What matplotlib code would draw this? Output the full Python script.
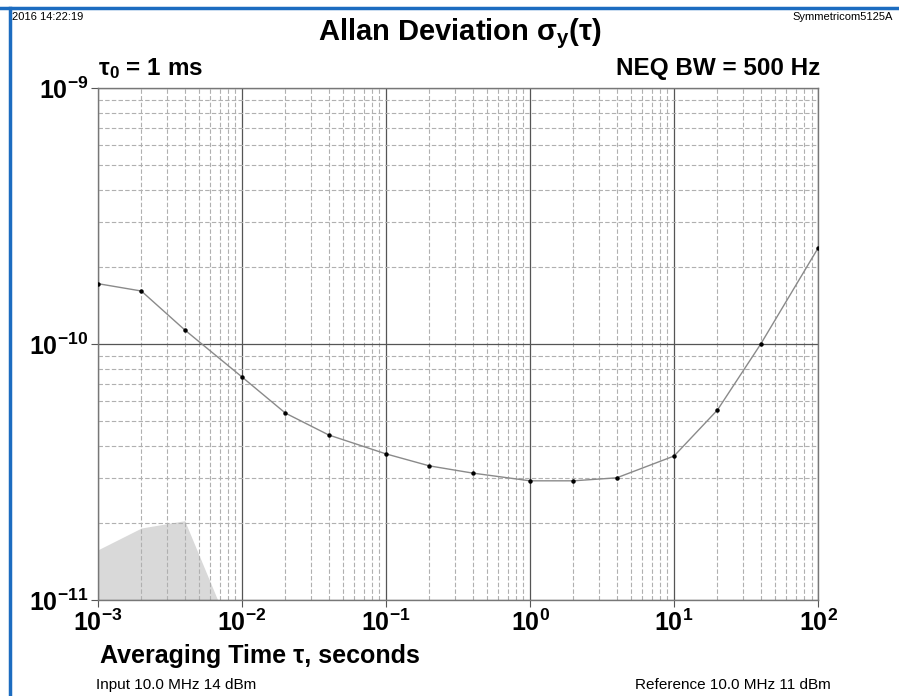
import matplotlib
matplotlib.use("Agg")
import matplotlib.pyplot as plt
from matplotlib.lines import Line2D
from matplotlib.ticker import LogLocator, NullFormatter

plt.rcParams['font.family'] = ['Liberation Sans', 'DejaVu Sans']
plt.rcParams['mathtext.fontset'] = 'custom'
plt.rcParams['mathtext.rm'] = 'Liberation Sans'
plt.rcParams['mathtext.bf'] = 'Liberation Sans:bold'
plt.rcParams['mathtext.it'] = 'Liberation Sans:italic'

# averaging times (s) and Allan deviation
tau = [1e-3, 2e-3, 4e-3, 1e-2, 2e-2, 4e-2, 1e-1, 2e-1, 4e-1,
       1.0, 2.0, 4.0, 10.0, 20.0, 40.0, 100.0]
adev = [1.72e-10, 1.61e-10, 1.135e-10, 7.43e-11, 5.37e-11, 4.41e-11,
        3.72e-11, 3.34e-11, 3.13e-11, 2.92e-11, 2.92e-11, 3.0e-11,
        3.65e-11, 5.52e-11, 1.0e-10, 2.37e-10]

# noise floor shown as grey area
floor_tau = [1e-3, 2e-3, 4e-3, 1e-2]
floor_val = [1.57e-11, 1.91e-11, 2.04e-11, 5.9e-12]

xticks = [1e-3, 1e-2, 1e-1, 1e0, 1e1, 1e2]
xlabels = ['-3', '-2', '-1', '0', '1', '2']
yticks = [1e-11, 1e-10, 1e-9]
ylabels = ['-11', '-10', '-9']

fig = plt.figure(figsize=(8.99, 6.96), dpi=100)
ax = fig.add_axes([0.109, 0.138, 0.801, 0.7356])

ax.fill_between(floor_tau, floor_val, 1e-13, color='#d9d9d9', lw=0, zorder=1)
ax.plot(tau, adev, color='#8a8a8a', lw=1.0, zorder=3)
ax.plot(tau, adev, 'o', color='black', ms=2.2, zorder=4)

ax.set_xscale('log')
ax.set_yscale('log')
ax.set_xlim(1e-3, 1e2)
ax.set_ylim(1e-11, 1e-9)

ax.set_xticks(xticks)
ax.set_xticklabels([r'$\mathbf{10^{%s}}$' % s for s in xlabels])
ax.set_yticks(yticks)
ax.set_yticklabels([r'$\mathbf{10^{%s}}$' % s for s in ylabels])
ax.xaxis.set_minor_locator(LogLocator(base=10, subs=range(2, 10), numticks=20))
ax.yaxis.set_minor_locator(LogLocator(base=10, subs=range(2, 10), numticks=20))
ax.xaxis.set_minor_formatter(NullFormatter())
ax.yaxis.set_minor_formatter(NullFormatter())
ax.tick_params(which='major', length=5, width=0.8, color='#555555', labelsize=18, pad=2)
ax.tick_params(which='minor', length=0)

ax.grid(True, which='major', color='#555555', lw=0.9, ls='-')
ax.grid(True, which='minor', color='#b0b0b0', lw=0.8, ls=(0, (4, 2)))
for s in ax.spines.values():
    s.set_color('#777777')
    s.set_linewidth(1.0)

fig.text(0.511, 0.952, r'Allan Deviation σ$_{\mathbf{y}}$(τ)', ha='center', va='center',
         fontsize=21, fontweight='bold')
fig.text(0.109, 0.902, r'τ$_{\mathbf{0}}$ = 1 ms', ha='left', va='center',
         fontsize=17.5, fontweight='bold')
fig.text(0.912, 0.902, 'NEQ BW = 500 Hz', ha='right', va='center',
         fontsize=17.5, fontweight='bold')
fig.text(0.111, 0.058, 'Averaging Time τ, seconds', ha='left', va='center',
         fontsize=18, fontweight='bold')
fig.text(0.107, 0.016, 'Input 10.0 MHz 14 dBm', ha='left', va='center', fontsize=11)
fig.text(0.924, 0.016, 'Reference 10.0 MHz 11 dBm', ha='right', va='center', fontsize=11)
fig.text(0.013, 0.975, '2016 14:22:19', ha='left', va='center', fontsize=8)
fig.text(0.882, 0.975, 'Symmetricom5125A', ha='left', va='center', fontsize=8)

# blue window frame
fig.add_artist(Line2D([0.0, 1.0], [0.988, 0.988], color='#1c6cc0', lw=2.5))
fig.add_artist(Line2D([0.0112, 0.0112], [0.0, 0.988], color='#1c6cc0', lw=2.5))

fig.savefig('out.png', dpi=100)
